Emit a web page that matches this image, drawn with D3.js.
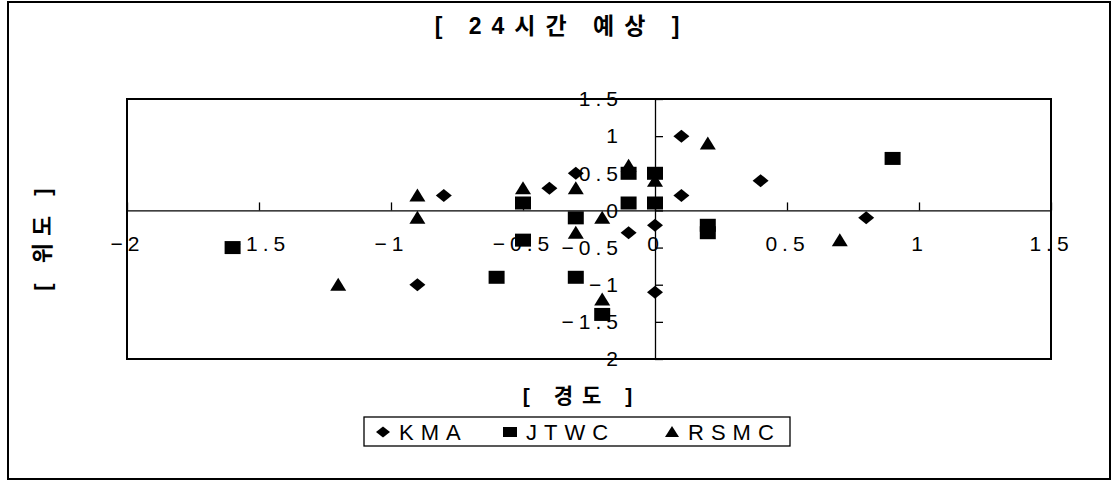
<!DOCTYPE html>
<html>
<head>
<meta charset="utf-8">
<script src="https://cdn.jsdelivr.net/npm/d3@7"></script>
<style>
  body { margin: 0; background: #fff; }
  svg text { font-family: "Liberation Sans", Arial, "Noto Sans CJK KR", sans-serif; fill: #000; }
</style>
</head>
<body>
<svg id="chart" width="1116" height="481"></svg>
<script>
// series data: [longitude error, latitude error]
const kma = [[-0.9, -1.0], [-0.8, 0.2], [-0.4, 0.3], [-0.3, 0.5], [-0.1, -0.3], [0, -0.2],
  [0, -1.1], [0.1, 1.0], [0.1, 0.2], [0.4, 0.4], [0.8, -0.1]];
const jtwc = [[-1.6, -0.5], [-0.6, -0.9], [-0.5, 0.1], [-0.5, -0.4], [-0.3, -0.1], [-0.3, -0.9],
  [-0.2, -1.4], [-0.1, 0.5], [-0.1, 0.1], [0, 0.5], [0, 0.1], [0.2, -0.2], [0.2, -0.3], [0.9, 0.7]];
const rsmc = [[-1.2, -1.0], [-0.9, 0.2], [-0.9, -0.1], [-0.5, 0.3], [-0.3, 0.3], [-0.3, -0.3],
  [-0.2, -0.1], [-0.2, -1.2], [-0.1, 0.6], [0, 0.4], [0.2, 0.9], [0.7, -0.4]];
const seriesNames = ["KMA", "JTWC", "RSMC"];
const tickValues = [-2, -1.5, -1, -0.5, 0, 0.5, 1, 1.5];

const svg = d3.select("#chart");

// outer frame
svg.append("rect")
  .attr("x", 8).attr("y", 2).attr("width", 1102).attr("height", 477)
  .attr("fill", "none").attr("stroke", "#000").attr("stroke-width", 2);

const plotLeft = 127, plotRight = 1051, plotTop = 99, plotBottom = 359;
const x = d3.scaleLinear().domain([-2, 1.5]).range([plotLeft, plotRight]);
const y = d3.scaleLinear().domain([-2, 1.5]).range([plotBottom, plotTop]);

// plot box
svg.append("rect")
  .attr("x", plotLeft).attr("y", plotTop)
  .attr("width", plotRight - plotLeft).attr("height", plotBottom - plotTop)
  .attr("fill", "none").attr("stroke", "#000").attr("stroke-width", 2);

const fmt = d => d3.format("")(d).replace("-", "−");

// x axis through y = 0, ticks pointing up, labels below
const xAxis = svg.append("g")
  .attr("transform", `translate(0,${y(0)})`)
  .call(d3.axisBottom(x).tickValues(tickValues).tickSize(-8).tickSizeOuter(0).tickPadding(26).tickFormat(fmt));

// y axis through x = 0, ticks pointing right, labels left
const yAxis = svg.append("g")
  .attr("transform", `translate(${x(0)},0)`)
  .call(d3.axisLeft(y).tickValues(tickValues).tickSize(-8).tickSizeOuter(0).tickPadding(37).tickFormat(fmt));

[xAxis, yAxis].forEach(g => {
  g.select(".domain").attr("stroke", "#000").attr("stroke-width", 1.3);
  g.selectAll(".tick line").attr("stroke", "#000").attr("stroke-width", 1.3);
  g.selectAll(".tick text")
    .attr("font-size", 21)
    .style("letter-spacing", "5px")
    .attr("font-family", "Liberation Sans, Arial, sans-serif");
});
yAxis.selectAll(".tick text").attr("dx", 5);

// marker shapes
const shapes = {
  KMA: "M0,-6.5L8,0L0,6.5L-8,0Z",
  JTWC: "M-8,-6.5H8V6.5H-8Z",
  RSMC: "M0,-7L8,6H-8Z"
};

const allSeries = [kma, jtwc, rsmc];
allSeries.forEach((pts, i) => {
  svg.append("g").selectAll("path")
    .data(pts)
    .join("path")
    .attr("d", shapes[seriesNames[i]])
    .attr("transform", d => `translate(${x(d[0])},${y(d[1])})`)
    .attr("fill", "#000");
});

// titles
svg.append("text")
  .attr("x", 562).attr("y", 34)
  .attr("text-anchor", "middle")
  .attr("font-size", 23).attr("font-weight", "bold")
  .style("letter-spacing", "10px")
  .text("[ 24시간 예상 ]");

svg.append("text")
  .attr("x", 582).attr("y", 403)
  .attr("text-anchor", "middle")
  .attr("font-size", 21).attr("font-weight", "bold")
  .style("letter-spacing", "9px")
  .text("[ 경도 ]");

svg.append("text")
  .attr("transform", "translate(50,236) rotate(-90)")
  .attr("text-anchor", "middle")
  .attr("font-size", 22).attr("font-weight", "bold")
  .style("letter-spacing", "7px")
  .text("[ 위도 ]");

// legend
const legend = svg.append("g").attr("transform", "translate(364,417)");
legend.append("rect")
  .attr("width", 426).attr("height", 29)
  .attr("fill", "none").attr("stroke", "#000").attr("stroke-width", 1.3);

const legendX = [19, 146, 308];
const legendShapes = {
  KMA: "M0,-5.5L7,0L0,5.5L-7,0Z",
  JTWC: "M-7,-5H7V5H-7Z",
  RSMC: "M0,-6L7,5H-7Z"
};
seriesNames.forEach((name, i) => {
  const item = legend.append("g").attr("transform", `translate(${legendX[i]},15)`);
  item.append("path").attr("d", legendShapes[name]).attr("fill", "#000");
  item.append("text")
    .attr("x", 16).attr("y", 8)
    .attr("font-size", 22)
    .style("letter-spacing", "7px")
    .text(name);
});
</script>
</body>
</html>
